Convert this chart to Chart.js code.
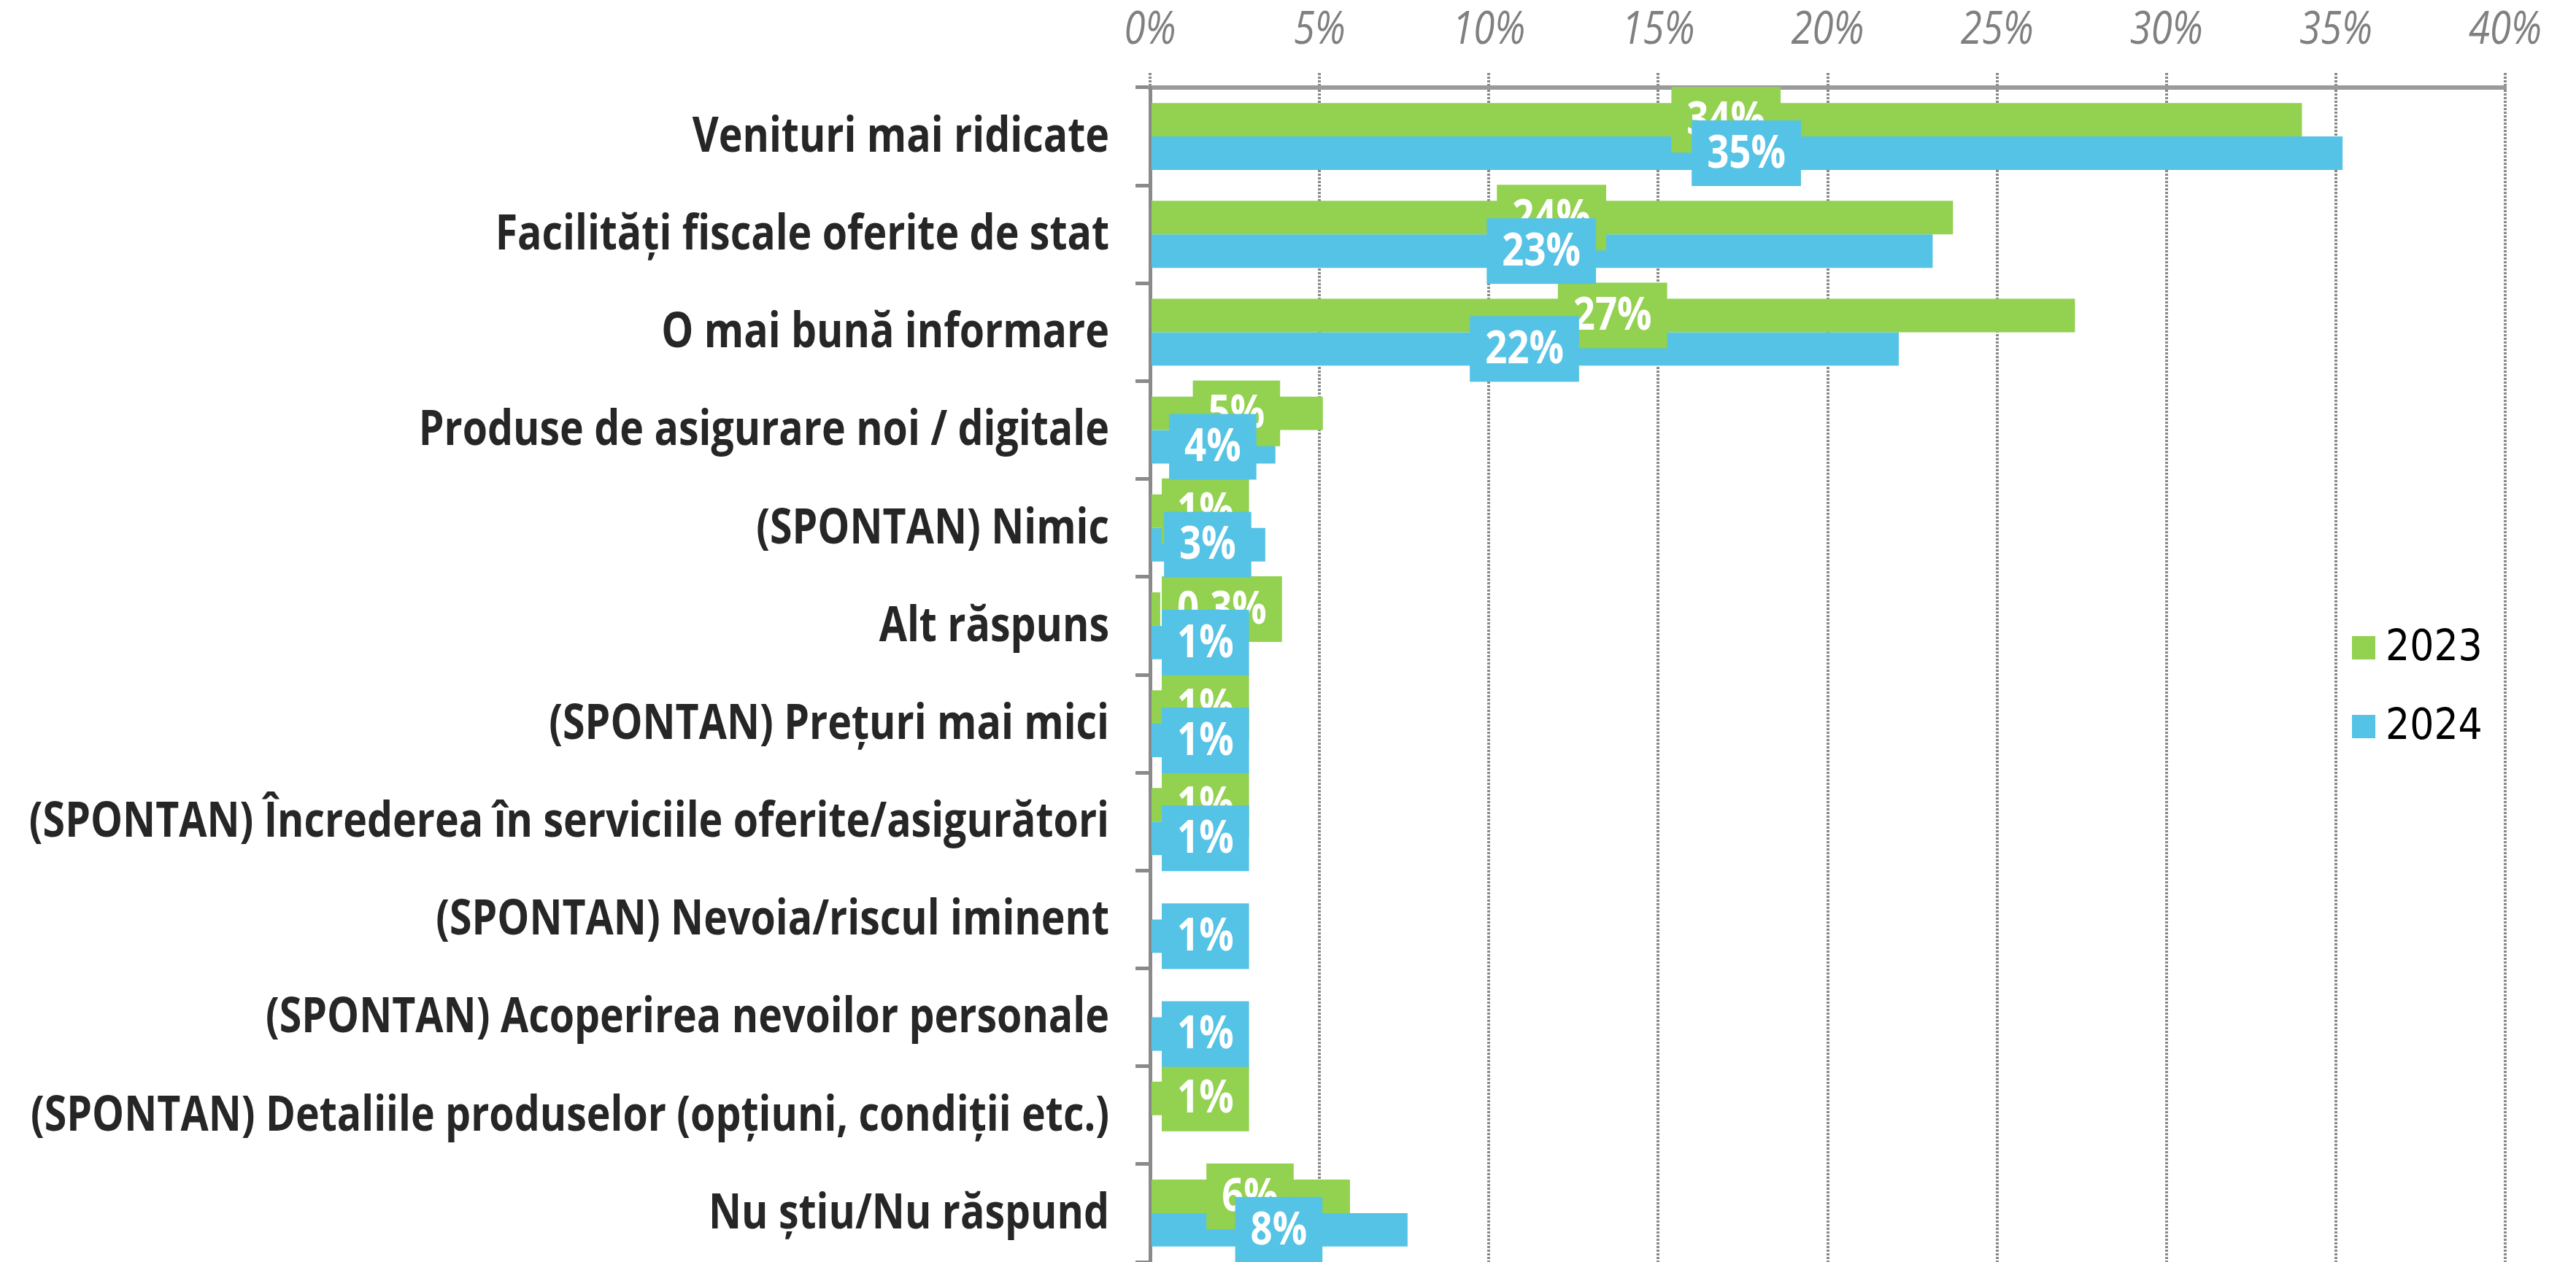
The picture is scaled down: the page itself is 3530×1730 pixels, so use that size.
<!DOCTYPE html>
<html>
<head>
<meta charset="utf-8">
<script src="https://cdn.jsdelivr.net/npm/chart.js@4.4.1/dist/chart.umd.min.js"></script>
<style>
    html, body { margin: 0; padding: 0; background: #fff; }
    #wrap { width: 3530px; height: 1730px; }
</style>
</head>
<body>
<div id="wrap"><canvas id="chart" width="3530" height="1730"></canvas></div>
<script>
// Data
const categories = [
    'Venituri mai ridicate',
    'Facilități fiscale oferite de stat',
    'O mai bună informare',
    'Produse de asigurare noi / digitale',
    '(SPONTAN) Nimic',
    'Alt răspuns',
    '(SPONTAN) Prețuri mai mici',
    '(SPONTAN) Încrederea în serviciile oferite/asigurători',
    '(SPONTAN) Nevoia/riscul iminent',
    '(SPONTAN) Acoperirea nevoilor personale',
    '(SPONTAN) Detaliile produselor (opțiuni, condiții etc.)',
    'Nu știu/Nu răspund'
];
const seriesNames = ['2023', '2024'];
const values2023 = [34.0, 23.7, 27.3, 5.1, 0.6, 0.3, 0.9, 0.9, null, null, 0.9, 5.9];
const values2024 = [35.2, 23.1, 22.1, 3.7, 3.4, 1.0, 1.0, 1.0, 0.8, 0.9, null, 7.6];
const xTicks = [0, 5, 10, 15, 20, 25, 30, 35, 40];

const GREEN = '#93D150';
const BLUE = '#55C3E5';
const GRID = '#8a8a8a';
const FONT = '"Open Sans", "Noto Sans", sans-serif';

// label text like the original: whole percent, one decimal below 0.5
const fmt = v => (v < 0.5 ? v.toFixed(1).replace('.', ',') : Math.round(v)) + '%';

// draw text squeezed horizontally (the original uses a narrow face)
function narrowText(ctx, txt, x, y, sx) {
    ctx.save();
    ctx.translate(x, y);
    ctx.scale(sx, 1);
    ctx.fillText(txt, 0, 0);
    ctx.restore();
}

// Axis texts: category names on the left, percent ticks on top
const axisText = {
    id: 'axisText',
    afterDraw(chart) {
        const { ctx, scales: { x, y } } = chart;
        ctx.save();
        ctx.textBaseline = 'middle';

        ctx.font = `bold 66px ${FONT}`;
        ctx.fillStyle = '#262626';
        ctx.textAlign = 'right';
        categories.forEach((c, i) => {
            narrowText(ctx, c, y.right - 56, y.getPixelForValue(i) + 2, 0.84);
        });

        ctx.font = `italic 62px ${FONT}`;
        ctx.fillStyle = '#808080';
        ctx.textAlign = 'center';
        xTicks.forEach(v => {
            narrowText(ctx, v + '%', x.getPixelForValue(v), 42, 0.85);
        });
        ctx.restore();
    }
};

// White value labels on coloured boxes
const boxLabels = {
    id: 'boxLabels',
    afterDatasetsDraw(chart) {
        const ctx = chart.ctx;
        const x0 = chart.scales.x.getPixelForValue(0);
        const sx = 0.85;
        ctx.save();
        ctx.font = `bold 62px ${FONT}`;
        ctx.textAlign = 'center';
        ctx.textBaseline = 'middle';
        chart.data.datasets.forEach((ds, i) => {
            const meta = chart.getDatasetMeta(i);
            meta.data.forEach((bar, j) => {
                const v = ds.data[j];
                if (v == null) return;
                const txt = fmt(v);
                const w = ctx.measureText(txt).width * sx + 42;
                const h = 90;
                let cx = (x0 + bar.x) / 2;
                cx = Math.max(cx, x0 + 16 + w / 2);
                ctx.fillStyle = ds.backgroundColor;
                ctx.fillRect(cx - w / 2, bar.y - h / 2, w, h);
                ctx.fillStyle = '#fff';
                narrowText(ctx, txt, cx, bar.y + 2, sx);
            });
        });
        ctx.restore();
    }
};

// Legend inside the plot, between 35% and 40%
const sideLegend = {
    id: 'sideLegend',
    afterDraw(chart) {
        const ctx = chart.ctx;
        const a = chart.chartArea;
        const x = a.right - 210;
        let y = a.top + 768;
        ctx.save();
        ctx.font = '58px "DejaVu Sans Condensed", "DejaVu Sans", sans-serif';
        ctx.textBaseline = 'middle';
        ctx.textAlign = 'left';
        chart.data.datasets.forEach(ds => {
            ctx.fillStyle = ds.backgroundColor;
            ctx.fillRect(x, y - 16, 32, 32);
            ctx.fillStyle = '#000';
            ctx.fillText(ds.label, x + 46, y + 2);
            y += 108;
        });
        ctx.restore();
    }
};

new Chart(document.getElementById('chart').getContext('2d'), {
    type: 'bar',
    data: {
        labels: categories,
        datasets: [
            { label: seriesNames[0], data: values2023, backgroundColor: GREEN },
            { label: seriesNames[1], data: values2024, backgroundColor: BLUE }
        ]
    },
    options: {
        indexAxis: 'y',
        responsive: false,
        animation: false,
        layout: { padding: { top: 0, right: 97, bottom: 0, left: 0 } },
        datasets: {
            bar: { categoryPercentage: 0.684, barPercentage: 1.0, borderWidth: 0 }
        },
        plugins: {
            legend: { display: false },
            tooltip: { enabled: false }
        },
        scales: {
            x: {
                position: 'top',
                min: 0,
                max: 40,
                afterBuildTicks: s => { s.ticks = xTicks.map(v => ({ value: v })); },
                afterFit: s => { s.height = 120; s.paddingLeft = 0; s.paddingRight = 0; },
                ticks: { display: false },
                grid: {
                    color: GRID,
                    lineWidth: 4,
                    borderDash: [3, 2],
                    tickLength: 20,
                    tickColor: GRID,
                    tickWidth: 4,
                    tickBorderDash: [3, 2]
                },
                border: { display: true, color: '#9a9a9a', width: 6, dash: [3, 2] }
            },
            y: {
                afterFit: s => { s.width = 1576; s.paddingTop = 0; s.paddingBottom = 0; },
                ticks: { display: false },
                grid: {
                    offset: true,
                    drawOnChartArea: false,
                    color: GRID,
                    lineWidth: 5,
                    tickLength: 20
                },
                border: { display: true, color: GRID, width: 5 }
            }
        }
    },
    plugins: [boxLabels, axisText, sideLegend]
});
</script>
</body>
</html>
